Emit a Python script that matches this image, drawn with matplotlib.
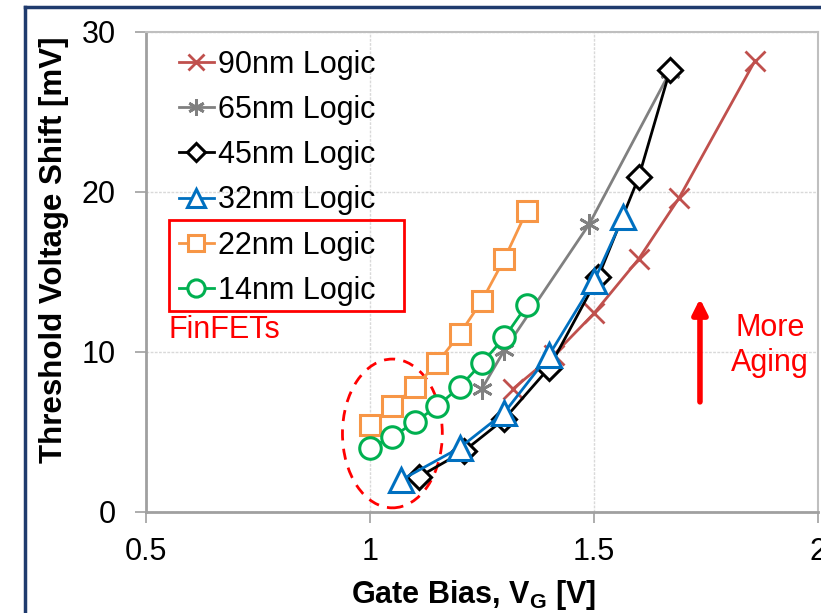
import matplotlib.pyplot as plt
from matplotlib.patches import Ellipse, Rectangle
from matplotlib.lines import Line2D

plt.rcParams['font.family'] = ['Liberation Sans', 'DejaVu Sans']

# data
vg_90 = [1.32, 1.41, 1.50, 1.60, 1.69, 1.86]
dv_90 = [7.7, 9.8, 12.4, 15.8, 19.6, 28.2]
vg_65 = [1.25, 1.30, 1.49, 1.67]
dv_65 = [7.7, 10.1, 18.0, 27.5]
vg_45 = [1.11, 1.21, 1.30, 1.40, 1.51, 1.60, 1.67]
dv_45 = [2.2, 3.8, 5.8, 9.0, 14.7, 20.9, 27.6]
vg_32 = [1.07, 1.20, 1.30, 1.40, 1.50, 1.565]
dv_32 = [2.0, 4.0, 6.2, 9.8, 14.4, 18.4]
vg_22 = [1.00, 1.05, 1.10, 1.15, 1.20, 1.25, 1.30, 1.35]
dv_22 = [5.4, 6.6, 7.8, 9.3, 11.1, 13.2, 15.8, 18.8]
vg_14 = [1.00, 1.05, 1.10, 1.15, 1.20, 1.25, 1.30, 1.35]
dv_14 = [4.0, 4.7, 5.6, 6.6, 7.8, 9.3, 10.9, 12.9]

fig = plt.figure(figsize=(8.21, 6.13), dpi=100)
ax = fig.add_axes([0.178, 0.165, 0.818, 0.783])

lw = 2
ax.plot(vg_90, dv_90, color="#C0504D", lw=lw, marker="x", ms=15, mew=2, label="90nm Logic")
ax.plot(vg_65, dv_65, color="#808080", lw=lw, marker=(6, 2, 0), ms=15, mew=2, label="65nm Logic")
ax.plot(vg_45, dv_45, color="black", lw=lw, marker="D", ms=12, mew=2.2, mfc="white", label="45nm Logic")
ax.plot(vg_32, dv_32, color="#0070C0", lw=lw, marker="^", ms=17, mew=2.2, mfc="white", label="32nm Logic")
ax.plot(vg_22, dv_22, color="#F79646", lw=lw, marker="s", ms=15, mew=2.2, mfc="white", label="22nm Logic")
ax.plot(vg_14, dv_14, color="#00B050", lw=lw, marker="o", ms=15.5, mew=2.2, mfc="white", label="14nm Logic")

ax.set_xlim(0.5, 2.0)
ax.set_ylim(0, 30)
ax.set_xticks([0.5, 1.0, 1.5, 2.0])
ax.set_xticklabels(["0.5", "1", "1.5", "2"])
ax.set_yticks([0, 10, 20, 30])
ax.tick_params(labelsize=22, color="#A0A0A0", length=8, width=1.2)
ax.tick_params(axis="x", pad=10)
ax.tick_params(axis="y", pad=14)
ax.grid(True, color="#D9D9D9", lw=1, ls=(0, (2, 1)))
ax.set_axisbelow(True)
for s in ["left", "bottom"]:
    ax.spines[s].set_color("#A0A0A0")
    ax.spines[s].set_linewidth(2)
for s in ["top", "right"]:
    ax.spines[s].set_color("#BFBFBF")
    ax.spines[s].set_linewidth(1.5)

ax.set_xlabel("Gate Bias, V$_\\mathregular{G}$ [V]", fontsize=22, fontweight="bold")
ax.set_ylabel("Threshold Voltage Shift [mV]", fontsize=22.5, fontweight="bold")
ax.xaxis.set_label_coords(0.487, -0.138, transform=ax.transAxes)
ax.yaxis.set_label_coords(-0.115, 0.546, transform=ax.transAxes)

leg = ax.legend(loc="upper left", bbox_to_anchor=(0.026, 0.995), frameon=False, fontsize=22,
                handlelength=1.15, handletextpad=0.13, labelspacing=0.5, borderpad=0, markerscale=0.8)

# red box around FinFET entries
ax.add_patch(Rectangle((0.034, 0.419), 0.35, 0.189, transform=ax.transAxes, fill=False,
                       ec="red", lw=2, clip_on=False, zorder=5))
ax.text(0.034, 0.378, "FinFETs", transform=ax.transAxes, color="red", fontsize=22, va="center")

# dashed ellipse round the low bias points
ax.add_patch(Ellipse((1.05, 4.9), 0.223, 9.3, fill=False, ec="red", lw=2, ls=(0, (4, 3))))

# aging arrow
ax.annotate("", xy=(1.737, 13.5), xytext=(1.737, 6.7),
            arrowprops=dict(arrowstyle="-|>", color="red", lw=4, mutation_scale=22))
ax.text(1.893, 10.4, "More\nAging", color="red", fontsize=22, ha="center", va="center")

# dark blue frame of the slide
fig.add_artist(Line2D([0.0305, 0.0305], [0, 0.9886], color="#1F3B6E", lw=2.5))
fig.add_artist(Line2D([0.0305, 1.0], [0.9886, 0.9886], color="#1F3B6E", lw=2.5))

fig.savefig("out.png", dpi=100)
